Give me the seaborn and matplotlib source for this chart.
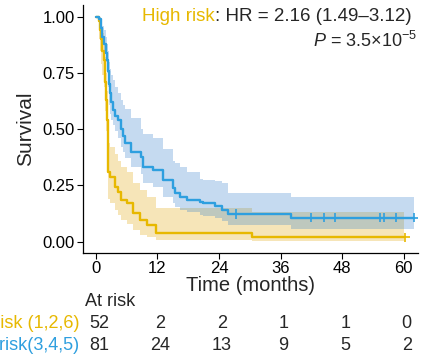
import numpy as np
import pandas as pd
import matplotlib
matplotlib.use("Agg")
import matplotlib.pyplot as plt
import matplotlib.transforms as mtransforms
import seaborn as sns

# Kaplan-Meier steps (time in months)
hi_time = [0, 0.6, 0.8, 1.1, 1.3, 1.5, 1.7, 1.85, 2.0, 2.1, 2.3, 2.7, 3.7, 4.3, 5.0, 6.0, 7.2, 8.6, 9.9, 11.8, 30.5, 60.0]
hi_surv = [1.0, 0.98, 0.94, 0.90, 0.85, 0.81, 0.77, 0.71, 0.63, 0.54, 0.31, 0.289, 0.244, 0.222, 0.185, 0.17, 0.127, 0.096, 0.074, 0.038, 0.019, 0.019]
hi_upper = [1.0, 1.0, 0.99, 0.96, 0.93, 0.90, 0.87, 0.82, 0.75, 0.67, 0.44, 0.42, 0.39, 0.36, 0.33, 0.31, 0.26, 0.23, 0.20, 0.15, 0.133, 0.133]
hi_lower = [1.0, 0.90, 0.85, 0.79, 0.74, 0.69, 0.64, 0.58, 0.49, 0.41, 0.19, 0.17, 0.14, 0.12, 0.095, 0.08, 0.05, 0.03, 0.02, 0.007, 0.002, 0.002]
hi_censor = [60.3]

lo_time = [0, 0.7, 1.0, 1.3, 1.6, 1.9, 2.1, 2.3, 2.5, 2.7, 3.0, 3.3, 3.8, 4.3, 4.9, 5.2, 5.6, 6.8, 8.8, 9.2,
           11.1, 13.1, 15.0, 15.4, 16.4, 17.7, 20.3, 20.9, 23.2, 24.5, 25.7, 38.1, 62.0]
lo_surv = [1.0, 0.99, 0.95, 0.91, 0.88, 0.84, 0.81, 0.76, 0.70, 0.66, 0.62, 0.586, 0.56, 0.541, 0.50, 0.47, 0.437, 0.40, 0.378, 0.333,
           0.318, 0.274, 0.237, 0.216, 0.20, 0.185, 0.177, 0.171, 0.158, 0.140, 0.122, 0.106, 0.106]
lo_upper = [1.0, 1.0, 0.99, 0.96, 0.94, 0.91, 0.88, 0.85, 0.80, 0.77, 0.74, 0.72, 0.69, 0.66, 0.63, 0.61, 0.59, 0.55, 0.50, 0.48,
            0.46, 0.41, 0.36, 0.35, 0.33, 0.31, 0.28, 0.275, 0.27, 0.26, 0.217, 0.20, 0.20]
lo_lower = [1.0, 0.97, 0.92, 0.88, 0.84, 0.80, 0.75, 0.69, 0.61, 0.57, 0.54, 0.52, 0.49, 0.46, 0.42, 0.40, 0.37, 0.33, 0.30, 0.26,
            0.245, 0.20, 0.17, 0.155, 0.14, 0.13, 0.12, 0.115, 0.105, 0.09, 0.075, 0.056, 0.056]
lo_censor = [27.4, 41.9, 44.5, 46.6, 55.4, 56.2, 58.6, 62.0]

groups = ["High risk (1,2,6)", "Low risk(3,4,5)"]
colors = ["#E7B800", "#2E9FDF"]
band_colors = ["#E4AC16", "#3F86CE"]

risk_times = [0, 12, 24, 36, 48, 60]
hi_at_risk = [52, 2, 2, 1, 1, 0]
lo_at_risk = [81, 24, 13, 9, 5, 2]

hr_text = ": HR = 2.16 (1.49\u20133.12)"
p_text = "$P$ = 3.5\u00d710$^{-5}$"

sns.set_style("ticks")
plt.rcParams["font.family"] = ["Liberation Sans", "DejaVu Sans"]
plt.rcParams["mathtext.fontset"] = "custom"
plt.rcParams["mathtext.rm"] = "Liberation Sans"
plt.rcParams["mathtext.it"] = "Liberation Sans:italic"

pal = dict(zip(groups, colors))

curves = pd.concat([
    pd.DataFrame({"time": hi_time, "surv": hi_surv, "group": groups[0]}),
    pd.DataFrame({"time": lo_time, "surv": lo_surv, "group": groups[1]}),
])


def surv_at(times, surv, t):
    idx = np.searchsorted(times, t, side="right") - 1
    return np.array(surv)[idx]


cens = pd.concat([
    pd.DataFrame({"time": hi_censor, "surv": surv_at(hi_time, hi_surv, hi_censor), "group": groups[0]}),
    pd.DataFrame({"time": lo_censor, "surv": surv_at(lo_time, lo_surv, lo_censor), "group": groups[1]}),
])

fig = plt.figure(figsize=(4.27, 3.56), dpi=100)
ax = fig.add_axes([83 / 427, 1 - 253 / 356, 335 / 427, 248 / 356])

ax.fill_between(hi_time, hi_lower, hi_upper, step="post", color=band_colors[0], alpha=0.3, lw=0)
ax.fill_between(lo_time, lo_lower, lo_upper, step="post", color=band_colors[1], alpha=0.3, lw=0)

sns.lineplot(data=curves, x="time", y="surv", hue="group", palette=pal, drawstyle="steps-post",
             estimator=None, sort=False, legend=False, lw=1.7, ax=ax)
sns.scatterplot(data=cens, x="time", y="surv", hue="group", palette=pal, marker="+", s=45,
                linewidth=1.2, legend=False, ax=ax, zorder=5)

ax.set_xlim(-2.5, 62.8)
ax.set_ylim(-0.051, 1.053)
ax.set_xticks(risk_times)
ax.set_yticks([0, 0.25, 0.5, 0.75, 1.0])
ax.set_yticklabels(["0.00", "0.25", "0.50", "0.75", "1.00"])
ax.tick_params(labelsize=12, length=4, width=0.8, color="black", pad=2, labelcolor="black")
ax.set_xlabel("Time (months)", fontsize=14.5, labelpad=0)
ax.set_ylabel("Survival", fontsize=15, labelpad=5)
for side in ["top", "right"]:
    ax.spines[side].set_visible(False)
for side in ["left", "bottom"]:
    ax.spines[side].set_color("black")
    ax.spines[side].set_linewidth(0.9)

t1 = ax.text(0.981, 0.935, hr_text, transform=ax.transAxes, ha="right", va="baseline", fontsize=13.5)
ax.annotate("High risk", xy=(0, 0.935), xycoords=(t1, "axes fraction"), ha="right", va="baseline",
            fontsize=13.5, color=colors[0])
ax.text(0.996, 0.832, p_text, transform=ax.transAxes, ha="right", va="baseline", fontsize=13)

# at-risk table under the axes
trans = mtransforms.blended_transform_factory(ax.transData, fig.transFigure)
fig.text(85 / 427, 1 - 302 / 356, "At risk", ha="left", va="center", fontsize=13)
rows = [(hi_at_risk, 1 - 324 / 356), (lo_at_risk, 1 - 345 / 356)]
for i, (counts, y) in enumerate(rows):
    fig.text(79 / 427, y, groups[i], ha="right", va="center", fontsize=13, color=colors[i])
    for t, n in zip(risk_times, counts):
        ax.text(t + 0.6, y, str(n), transform=trans, ha="center", va="center", fontsize=13, clip_on=False)

fig.savefig("out.png", dpi=100)
